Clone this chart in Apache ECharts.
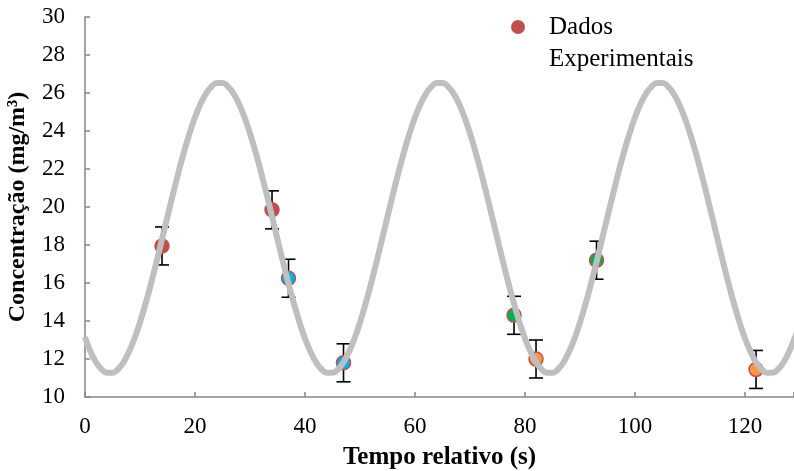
<!DOCTYPE html>
<html>
<head>
<meta charset="utf-8">
<script src="https://cdn.jsdelivr.net/npm/echarts@6/dist/echarts.min.js"></script>
<style>
  html, body { margin: 0; padding: 0; background: #ffffff; }
  #chart { width: 794px; height: 471px; }
</style>
</head>
<body>
<div id="chart"></div>
<script>
// Measured concentrations with their uncertainty
var timeValues = [14, 34, 37, 47, 78, 82, 93, 122];
var concValues = [17.95, 19.85, 16.25, 11.8, 14.3, 12.0, 17.2, 11.45];
var errValues  = [1.0, 1.0, 1.0, 1.0, 1.0, 1.0, 1.0, 1.0];
var markerFills = ['#c0504d', '#c0504d', '#00b0f0', '#00b0f0', '#00b050', '#f79646', '#00b050', '#f79646'];

// Periodic model curve, one value per second from 0 to 130 s
var curveConc = [
  13.15, 12.38, 11.83, 11.46, 11.27, 11.27, 11.46, 11.83, 12.38, 13.08,
  13.93, 14.90, 15.97, 17.11, 18.30, 19.50, 20.69, 21.83, 22.90, 23.87,
  24.72, 25.42, 25.97, 26.34, 26.53, 26.53, 26.34, 25.97, 25.42, 24.72,
  23.87, 22.90, 21.83, 20.69, 19.50, 18.30, 17.11, 15.97, 14.90, 13.93,
  13.08, 12.38, 11.83, 11.46, 11.27, 11.27, 11.46, 11.83, 12.38, 13.08,
  13.93, 14.90, 15.97, 17.11, 18.30, 19.50, 20.69, 21.83, 22.90, 23.87,
  24.72, 25.42, 25.97, 26.34, 26.53, 26.53, 26.34, 25.97, 25.42, 24.72,
  23.87, 22.90, 21.83, 20.69, 19.50, 18.30, 17.11, 15.97, 14.90, 13.93,
  13.08, 12.38, 11.83, 11.46, 11.27, 11.27, 11.46, 11.83, 12.38, 13.08,
  13.93, 14.90, 15.97, 17.11, 18.30, 19.50, 20.69, 21.83, 22.90, 23.87,
  24.72, 25.42, 25.97, 26.34, 26.53, 26.53, 26.34, 25.97, 25.42, 24.72,
  23.87, 22.90, 21.83, 20.69, 19.50, 18.30, 17.11, 15.97, 14.90, 13.93,
  13.08, 12.38, 11.83, 11.46, 11.27, 11.27, 11.46, 11.83, 12.38, 13.08,
  13.93
];
var curveTime = curveConc.map(function (_, i) { return i; });

var xTickLabels = ['0', '20', '40', '60', '80', '100', '120'];
var yTickLabels = ['10', '12', '14', '16', '18', '20', '22', '24', '26', '28', '30'];

var serif = '"Liberation Serif", "Times New Roman", serif';
var axisGray = '#868686';

var scatterData = timeValues.map(function (t, i) {
  return { value: [t, concValues[i]], itemStyle: { color: markerFills[i] } };
});
var errData = timeValues.map(function (t, i) {
  return [t, concValues[i] - errValues[i], concValues[i] + errValues[i]];
});
var curveData = curveTime.map(function (t, i) { return [t, curveConc[i]]; });

var chart = echarts.init(document.getElementById('chart'), null, { renderer: 'canvas' });

chart.setOption({
  animation: false,
  backgroundColor: '#ffffff',
  grid: {
    left: 85, right: 0, top: 17, bottom: 74,
    containLabel: false,
    outerBoundsMode: 'none'
  },
  legend: {
    data: ['Dados Experimentais'],
    left: 511,
    top: -21,
    padding: 0,
    itemWidth: 52,
    itemHeight: 14,
    icon: 'circle',
    formatter: function () { return '\nDados\nExperimentais'; },
    textStyle: {
      fontFamily: serif, fontSize: 25, color: '#000000',
      lineHeight: 32
    },
    itemStyle: { color: '#c0504d', borderWidth: 0 }
  },
  xAxis: {
    type: 'value',
    min: 0,
    max: 128.9,
    interval: 20,
    name: 'Tempo relativo (s)',
    nameLocation: 'middle',
    nameGap: 48,
    nameTextStyle: { fontFamily: serif, fontSize: 25, fontWeight: 'bold', color: '#000000' },
    axisLine: { show: true, lineStyle: { color: axisGray, width: 1.5 } },
    axisTick: { show: true, inside: true, length: 5, lineStyle: { color: axisGray, width: 1.5 } },
    axisLabel: {
      margin: 18,
      fontFamily: serif, fontSize: 23, color: '#000000',
      formatter: function (v) {
        var k = Math.round(v / 20);
        return (Math.abs(v - k * 20) < 1e-6 && xTickLabels[k] !== undefined) ? xTickLabels[k] : '';
      }
    },
    splitLine: { show: false }
  },
  yAxis: {
    type: 'value',
    min: 10,
    max: 30,
    interval: 2,
    name: 'Concentração (mg/m³)',
    nameLocation: 'middle',
    nameGap: 55,
    nameTextStyle: { fontFamily: serif, fontSize: 24, fontWeight: 'bold', color: '#000000' },
    axisLine: { show: true, lineStyle: { color: axisGray, width: 1.5 } },
    axisTick: { show: true, inside: true, length: 5, lineStyle: { color: axisGray, width: 1.5 } },
    axisLabel: {
      margin: 20,
      fontFamily: serif, fontSize: 23, color: '#000000',
      formatter: function (v) {
        var k = Math.round((v - 10) / 2);
        return yTickLabels[k] !== undefined ? yTickLabels[k] : '';
      }
    },
    splitLine: { show: false }
  },
  series: [
    {
      name: 'erro',
      type: 'custom',
      z: 1,
      silent: true,
      data: errData,
      encode: { x: 0, y: [1, 2] },
      renderItem: function (params, api) {
        var x = api.value(0);
        var lo = api.coord([x, api.value(1)]);
        var hi = api.coord([x, api.value(2)]);
        var cap = 7;
        var style = { stroke: '#000000', lineWidth: 1.6, fill: null };
        return {
          type: 'group',
          children: [
            { type: 'line', shape: { x1: lo[0], y1: lo[1], x2: hi[0], y2: hi[1] }, style: style },
            { type: 'line', shape: { x1: lo[0] - cap, y1: lo[1], x2: lo[0] + cap, y2: lo[1] }, style: style },
            { type: 'line', shape: { x1: hi[0] - cap, y1: hi[1], x2: hi[0] + cap, y2: hi[1] }, style: style }
          ]
        };
      }
    },
    {
      name: 'Dados Experimentais',
      type: 'scatter',
      z: 2,
      symbol: 'circle',
      symbolSize: 14,
      data: scatterData,
      itemStyle: { borderColor: '#c0504d', borderWidth: 1.5, opacity: 1 }
    },
    {
      name: 'Modelo',
      type: 'line',
      z: 3,
      data: curveData,
      smooth: true,
      showSymbol: false,
      symbol: 'none',
      lineStyle: { color: '#bfbfbf', width: 6 },
      silent: true
    }
  ]
});
</script>
</body>
</html>
